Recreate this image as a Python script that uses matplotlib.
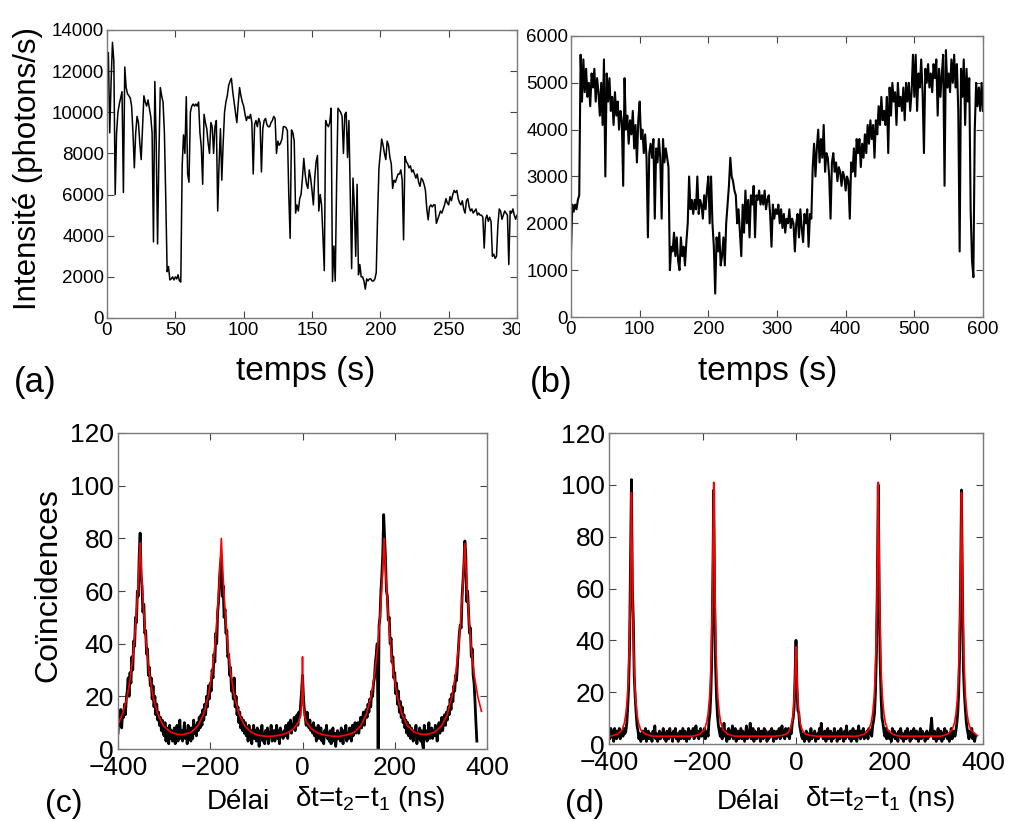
import numpy as np
import matplotlib
matplotlib.use("Agg")
import matplotlib.pyplot as plt
from matplotlib.transforms import Bbox

plt.rcParams['font.family'] = ['Liberation Sans', 'DejaVu Sans']
plt.rcParams['mathtext.fontset'] = 'custom'
plt.rcParams['mathtext.rm'] = 'Liberation Sans'
plt.rcParams['mathtext.it'] = 'Liberation Sans:italic'
plt.rcParams['axes.unicode_minus'] = True

# (a) intensity trace, 1 s steps (photons/s)
intens_a = [
    12800, 12900, 9000, 11500, 13400, 12500, 6000, 9000, 10000, 10400,
    10700, 11000, 6100, 12200, 11200, 10900, 10800, 10700, 10300, 9000,
    7300, 9000, 9800, 9500, 8500, 7700, 9200, 10800, 10500, 10300,
    10600, 10200, 9800, 9000, 3700, 11500, 8500, 3600, 8000, 11200,
    10800, 10500, 9000, 5800, 2250, 2500, 1850, 1900, 2000, 1850,
    2000, 1900, 2100, 1800, 1750, 7400, 8900, 8000, 10760, 7000,
    6600, 10000, 10300, 10400, 10300, 10400, 10300, 10500, 9000, 8300,
    6500, 9900, 9500, 9200, 8500, 8000, 9500, 9300, 8000, 9300,
    9600, 5200, 7500, 9200, 6700, 8500, 10000, 10500, 10800, 11300,
    11500, 11650, 11000, 10500, 10000, 9500, 10400, 11200, 10800, 10500,
    10300, 9900, 9600, 9800, 9700, 9900, 9500, 7000, 9400, 9600,
    9300, 9700, 9500, 7100, 9200, 9600, 9700, 9400, 9300, 9300,
    9500, 9600, 9800, 9700, 8000, 8600, 8400, 8500, 8700, 9300,
    9300, 9250, 9100, 6000, 3870, 9140, 9000, 8600, 5100, 5500,
    5200, 5800, 6000, 6800, 7760, 7000, 6500, 6300, 7200, 6800,
    6200, 5500, 6800, 7600, 7900, 5200, 6000, 5500, 4000, 2300,
    9600, 9400, 9300, 9500, 10200, 1770, 3500, 1800, 6500, 10200,
    10100, 10000, 9800, 8000, 9900, 10000, 7800, 9600, 6000, 2400,
    6800, 5400, 3000, 6500, 2100, 2600, 2000, 2000, 1800, 1400,
    1900, 1800, 1900, 1900, 1800, 1800, 1900, 2200, 5000, 7300,
    8000, 8700, 8400, 8000, 7700, 8600, 8400, 7800, 7500, 6300,
    6700, 6600, 6800, 7000, 7000, 7200, 6700, 3800, 7850, 7600,
    7500, 7300, 7400, 7100, 7200, 7000, 6800, 7000, 6600, 6400,
    6800, 6700, 6500, 6200, 5300, 4770, 5400, 5500, 5400, 5500,
    5500, 4600, 4800, 5000, 5200, 5100, 5300, 5500, 5800, 5600,
    5500, 5900, 5700, 6000, 6200, 6100, 6200, 5800, 5600, 5500,
    5700, 5300, 5100, 5700, 5800, 5400, 5200, 5300, 5100, 5200,
    5300, 5000, 5100, 5000, 5000, 4900, 3400, 4800, 5000, 4700,
    4900, 4700, 3000, 3100, 2900, 3000, 4500, 5300, 5200, 4800,
    5000, 5200, 5100, 5000, 2600, 5200, 5100, 5300, 5000, 4800,
    5000,
]

# (b) intensity trace, 2 s steps (photons/s)
intens_b = [
    1400, 2400, 2250, 2400, 2300, 2500, 2600, 5600, 4600, 5500,
    4800, 5300, 4700, 5000, 4500, 5200, 4900, 5300, 4600, 5100,
    4800, 4300, 5000, 4100, 5500, 3000, 5200, 4600, 5100, 4400,
    4700, 4100, 4800, 4300, 4600, 4000, 4400, 4200, 2800, 5100,
    4000, 4300, 3700, 4200, 3900, 4400, 3600, 4100, 3300, 4200,
    4600, 3800, 4000, 3500, 3900, 3400, 1700, 3500, 3700, 3400,
    3800, 2100, 3600, 3300, 3800, 3400, 2100, 3800, 3300, 3600,
    3400, 3200, 1000, 1500, 1400, 1800, 1300, 1700, 1200, 1000,
    1700, 1300, 1500, 1100, 1600, 2000, 3000, 2300, 2500, 2200,
    2500, 2300, 3000, 2200, 2500, 2400, 2100, 2600, 2300, 2700,
    3000, 2000, 3000, 2000, 1500, 500, 1700, 1400, 1800, 1100,
    1300, 1700, 1100, 2000, 2400, 2800, 3400, 3000, 2900, 2700,
    2600, 2000, 2300, 1800, 1300, 2400, 1800, 2700, 2000, 2500,
    1700, 2600, 2400, 2800, 1700, 2600, 2500, 2700, 2400, 2600,
    2400, 2700, 2300, 2500, 2600, 2200, 1500, 2400, 2100, 2300,
    2200, 2400, 2000, 2300, 1900, 2200, 1800, 2100, 2000, 2300,
    1900, 2100, 2000, 1400, 2000, 2200, 1700, 2300, 1900, 1600,
    2200, 2000, 2300, 1500, 2200, 2100, 3200, 3700, 3000, 3600,
    4000, 3300, 3800, 3400, 4100, 3100, 3500, 3400, 3000, 2100,
    3300, 3500, 3100, 3300, 2900, 3200, 3100, 2800, 3100, 3000,
    2700, 3000, 2900, 2100, 3300, 3100, 3600, 3000, 3800, 3500,
    3800, 3200, 3700, 3400, 3900, 3500, 4100, 3700, 4200, 3800,
    4100, 3400, 4200, 3900, 4500, 4100, 4700, 4200, 4400, 4100,
    4700, 3500, 4900, 4300, 5000, 4600, 4800, 4100, 5000, 4500,
    4700, 4400, 4900, 4200, 5000, 4600, 5000, 4400, 4800, 5600,
    4700, 5600, 4400, 5200, 4900, 5500, 4800, 3500, 5300, 5000,
    5400, 4900, 5200, 4800, 5400, 5100, 5500, 4300, 5300, 4700,
    5200, 5600, 2800, 5700, 4900, 5200, 4800, 5500, 5000, 5600,
    4900, 5400, 4400, 1400, 5300, 4700, 5500, 4100, 5300, 4600,
    5100, 2300, 1200, 850, 4000, 5000, 4500, 4900, 4400, 5000,
    4400,
]

# (c) coincidence histogram, 2 ns bins from -400 ns
counts_c = [
    6, 12, 9, 15, 8, 14, 12, 17, 13, 19,
    22, 27, 20, 29, 25, 35, 30, 41, 39, 50,
    48, 60, 58, 74, 82, 66, 62, 52, 55, 44,
    45, 36, 38, 28, 31, 24, 27, 19, 24, 16,
    20, 13, 17, 11, 14, 9, 12, 7, 11, 6,
    5, 10, 3, 8, 6, 2, 9, 4, 7, 3,
    4, 8, 2, 6, 9, 3, 5, 11, 4, 7,
    3, 6, 10, 4, 7, 2, 9, 5, 8, 3,
    8, 4, 11, 6, 9, 5, 10, 7, 12, 8,
    13, 9, 15, 11, 17, 13, 20, 16, 24, 19,
    25, 22, 30, 27, 36, 33, 44, 40, 52, 56,
    64, 70, 73, 58, 62, 50, 53, 44, 45, 35,
    36, 28, 31, 22, 26, 19, 27, 16, 20, 13,
    16, 10, 14, 8, 12, 7, 11, 6, 10, 5,
    8, 3, 9, 5, 7, 2, 6, 9, 4, 7,
    3, 8, 5, 1, 7, 4, 9, 3, 6, 2,
    7, 4, 8, 2, 6, 5, 9, 3, 5, 7,
    3, 6, 9, 4, 7, 2, 8, 5, 6, 4,
    7, 5, 9, 6, 4, 10, 7, 11, 6, 9,
    8, 12, 7, 10, 13, 9, 14, 12, 17, 22,
    28, 20, 15, 12, 9, 14, 10, 8, 11, 7,
    9, 6, 10, 5, 8, 3, 7, 9, 4, 6,
    8, 3, 6, 2, 7, 5, 9, 4, 6, 3,
    7, 2, 5, 8, 3, 6, 1, 5, 7, 4,
    6, 3, 8, 4, 2, 7, 5, 9, 3, 6,
    4, 8, 6, 3, 9, 5, 7, 10, 6, 8,
    10, 6, 9, 12, 8, 11, 14, 9, 13, 15,
    12, 17, 14, 19, 16, 22, 20, 25, 27, 33,
    36, 40, 0, 47, 50, 60, 66, 74, 89, 80,
    72, 60, 58, 49, 50, 40, 42, 33, 35, 27,
    29, 21, 25, 17, 22, 14, 18, 12, 16, 10,
    13, 8, 11, 6, 10, 5, 9, 4, 8, 6,
    3, 7, 5, 9, 2, 6, 4, 8, 3, 7,
    2, 0, 9, 4, 7, 3, 5, 10, 4, 6,
    8, 4, 7, 5, 9, 6, 3, 8, 10, 6,
    9, 12, 7, 11, 13, 9, 14, 11, 16, 13,
    19, 15, 21, 18, 24, 22, 28, 26, 32, 38,
    44, 47, 46, 58, 64, 70, 79, 74, 56, 60,
    52, 44, 46, 35, 38, 28, 25, 18, 10, 3,
]

# (c) fitted curve, read point by point
fit_c_x = [
    -400, -390, -380, -372, -366, -361, -357, -354, -352, -350,
    -347, -343, -338, -332, -324, -314, -302, -287, -272, -264,
    -256, -241, -226, -214, -204, -196, -190, -185, -181, -178,
    -176, -174, -171, -167, -162, -156, -148, -138, -126, -111,
    -96, -80, -63, -45, -32, -22, -14, -8, -4, -1.5,
    0, 1.5, 4, 8, 14, 22, 32, 45, 63, 80,
    97, 112, 127, 139, 149, 157, 163, 168, 172, 175,
    177, 179, 182, 186, 191, 197, 205, 215, 227, 242,
    257, 265, 272, 287, 302, 314, 324, 332, 338, 343,
    347, 350, 352, 354, 357, 361, 366, 372, 380, 388,
]
fit_c_y = [
    9.4, 13.3, 19.9, 28.6, 38.3, 49.2, 60.4, 70.5, 78.3, 70.5,
    60.4, 49.2, 38.3, 28.6, 19.9, 13.3, 8.9, 6.5, 5.6, 5.4,
    5.6, 6.4, 9.0, 13.5, 20.3, 29.2, 39.0, 50.2, 61.7, 72.1,
    80.0, 72.1, 61.7, 50.2, 39.0, 29.2, 20.3, 13.5, 9.0, 6.3,
    5.2, 4.8, 4.9, 5.4, 6.2, 7.3, 8.8, 10.5, 13.0, 18.0,
    35.0, 18.0, 13.0, 10.5, 8.8, 7.3, 6.2, 5.4, 4.9, 4.8,
    5.4, 6.3, 9.0, 13.5, 20.3, 29.2, 39.0, 50.2, 61.7, 72.1,
    80.0, 72.1, 61.7, 50.2, 39.0, 29.2, 20.3, 13.5, 9.0, 6.4,
    5.6, 5.5, 5.6, 6.4, 8.9, 13.2, 19.9, 28.5, 38.1, 49.0,
    60.2, 70.3, 78.0, 70.3, 60.2, 49.0, 38.1, 28.5, 19.9, 14.3,
]

# (d) coincidence histogram, 2 ns bins from -400 ns
counts_d = [
    5, 2, 6, 3, 5, 1, 6, 4, 2, 5,
    3, 6, 2, 4, 5, 3, 6, 4, 5, 8,
    14, 22, 38, 70, 102, 60, 48, 26, 18, 12,
    7, 5, 2, 4, 1, 3, 5, 2, 4, 6,
    1, 3, 5, 2, 4, 3, 1, 5, 3, 7,
    2, 4, 1, 3, 5, 2, 4, 3, 6, 2,
    4, 1, 5, 3, 2, 6, 3, 4, 1, 5,
    3, 6, 2, 4, 1, 3, 5, 2, 4, 6,
    2, 5, 3, 1, 4, 6, 2, 5, 3, 4,
    6, 2, 4, 7, 3, 5, 2, 4, 6, 3,
    5, 3, 6, 2, 4, 5, 3, 9, 12, 20,
    35, 62, 98, 55, 30, 18, 11, 7, 5, 3,
    6, 2, 4, 8, 3, 5, 1, 4, 6, 2,
    5, 3, 7, 2, 4, 6, 1, 3, 5, 2,
    4, 6, 2, 5, 3, 1, 4, 7, 2, 5,
    3, 8, 2, 4, 6, 1, 5, 3, 2, 4,
    6, 3, 1, 5, 4, 2, 6, 3, 5, 1,
    4, 2, 5, 3, 6, 4, 1, 5, 3, 2,
    5, 3, 6, 2, 4, 7, 3, 5, 2, 6,
    4, 3, 6, 2, 5, 4, 8, 10, 14, 26,
    40, 22, 13, 12, 7, 5, 3, 2, 4, 1,
    3, 5, 2, 4, 1, 3, 6, 2, 4, 3,
    5, 1, 3, 4, 2, 6, 3, 8, 4, 2,
    3, 5, 1, 4, 6, 2, 3, 5, 1, 4,
    2, 6, 3, 4, 1, 5, 3, 2, 6, 4,
    3, 1, 5, 2, 7, 3, 4, 2, 5, 1,
    4, 6, 2, 3, 5, 1, 4, 7, 3, 2,
    5, 3, 6, 2, 4, 3, 5, 2, 6, 4,
    5, 3, 7, 9, 12, 20, 35, 62, 100, 58,
    32, 18, 10, 8, 5, 3, 6, 2, 4, 5,
    2, 4, 1, 6, 3, 5, 2, 4, 3, 1,
    5, 3, 6, 2, 4, 1, 3, 5, 2, 6,
    3, 4, 1, 5, 2, 3, 6, 4, 2, 5,
    3, 1, 4, 6, 2, 5, 3, 4, 1, 3,
    5, 2, 4, 3, 6, 10, 4, 2, 5, 3,
    1, 4, 6, 2, 3, 5, 1, 4, 2, 6,
    3, 5, 2, 4, 1, 3, 6, 2, 4, 5,
    3, 5, 8, 12, 20, 35, 62, 98, 60, 30,
    20, 14, 9, 6, 4, 2, 5, 3, 6, 2,
    4, 1, 3,
]

# (d) fitted curve, read point by point
fit_d_x = [
    -400, -397, -382, -372, -367, -364, -361, -359, -357, -355, -353.5,
    -352, -350.5, -349, -347, -345, -343, -340, -337, -332, -322, -307,
    -221, -206, -196, -191, -188, -185, -183, -181, -179, -177.5,
    -176, -174.5, -173, -171, -169, -167, -164, -161, -156, -146, -131,
    -45, -30, -20, -15, -12, -9, -7, -5, -3, -1.5,
    0, 1.5, 3, 5, 7, 9, 12, 15, 20, 30, 45,
    131, 146, 156, 161, 164, 167, 169, 171, 173, 174.5,
    176, 177.5, 179, 181, 183, 185, 188, 191, 196, 206, 221,
    309, 324, 334, 339, 342, 345, 347, 349, 351, 352.5,
    354, 355.5, 357, 359, 361, 363, 366, 369, 374, 384, 388,
]
fit_d_y = [
    3, 3, 3.8, 5.4, 8.2, 11.5, 17.1, 23.7, 35, 51.9, 74.4,
    97, 74.4, 51.9, 35, 23.7, 17.1, 11.5, 8.2, 5.4, 3.8, 3,
    3, 3.8, 5.5, 8.4, 11.8, 17.7, 24.6, 36.3, 54, 77.5,
    101, 77.5, 54, 36.3, 24.6, 17.7, 11.8, 8.4, 5.5, 3.8, 3,
    3, 3.3, 3.9, 4.9, 6.1, 8.2, 10.6, 14.7, 20.9, 29.2,
    37.5, 29.2, 20.9, 14.7, 10.6, 8.2, 6.1, 4.9, 3.9, 3.3, 3,
    3, 3.8, 5.5, 8.4, 11.8, 17.7, 24.6, 36.3, 54, 77.5,
    101, 77.5, 54, 36.3, 24.6, 17.7, 11.8, 8.4, 5.5, 3.8, 3,
    3, 3.8, 5.4, 8.2, 11.5, 17.1, 23.7, 35, 51.9, 74.4,
    97, 74.4, 51.9, 35, 23.7, 17.1, 11.5, 8.2, 5.4, 3.8, 3.2,
]

time_a = np.arange(len(intens_a))
time_b = np.arange(len(intens_b)) * 2
lag_c = -400 + np.arange(len(counts_c)) * 2
lag_d = -400 + np.arange(len(counts_d)) * 2

W, H = 1011, 821
fig = plt.figure(figsize=(W / 100, H / 100), dpi=100)


def rect(x0, y0, x1, y1):
    # pixel box -> figure fraction [left, bottom, width, height]
    return [x0 / W, 1 - y1 / H, (x1 - x0) / W, (y1 - y0) / H]


def px(x, y):
    return x / W, 1 - y / H


def style(ax, fs, xpad, ypad):
    ax.tick_params(direction='in', top=True, right=True, length=5, width=0.8,
                   color='#444444', labelsize=fs)
    ax.tick_params(axis='x', pad=xpad)
    ax.tick_params(axis='y', pad=ypad)
    for s in ax.spines.values():
        s.set_color('#7a7a7a')
        s.set_linewidth(1.0)


ax_a = fig.add_axes(rect(107, 30, 517, 318))
ax_a.plot(time_a, intens_a, color='black', lw=1.1)
ax_a.set_xlim(0, 300)
ax_a.set_ylim(0, 14000)
ax_a.set_xticks(range(0, 301, 50))
ax_a.set_yticks(range(0, 14001, 2000))
style(ax_a, 13.5, 3, 2)

ax_b = fig.add_axes(rect(571, 36, 983, 317))
ax_b.plot(time_b, intens_b, color='black', lw=1.5)
ax_b.set_xlim(0, 600)
ax_b.set_ylim(0, 6000)
ax_b.set_xticks(range(0, 601, 100))
ax_b.set_yticks(range(0, 6001, 1000))
style(ax_b, 13.5, 3, 2)

ax_c = fig.add_axes(rect(118, 433, 487, 749))
ax_c.plot(lag_c, counts_c, color='black', lw=2.0)
ax_c.plot(fit_c_x, fit_c_y, color='red', lw=1.2)
ax_c.set_xlim(-400, 400)
ax_c.set_ylim(0, 120)
ax_c.set_xticks(range(-400, 401, 200))
ax_c.set_yticks(range(0, 121, 20))
style(ax_c, 19, 5, 3)

ax_d = fig.add_axes(rect(609, 433, 983, 744))
ax_d.plot(lag_d, counts_d, color='black', lw=2.0)
ax_d.plot(fit_d_x, fit_d_y, color='red', lw=1.2)
ax_d.set_xlim(-400, 400)
ax_d.set_ylim(0, 120)
ax_d.set_xticks(range(-400, 401, 200))
ax_d.set_yticks(range(0, 121, 20))
style(ax_d, 19, 5, 3)

# the "300" label of (a) is cut at the panel edge in the original
clip = Bbox.from_extents(0, 0, 520, H)
for lab in ax_a.get_xticklabels():
    lab.set_clip_box(clip)
    lab.set_clip_on(True)

fig.text(*px(28, 168), 'Intensité (photons/s)', rotation=90, fontsize=22.5,
         ha='center', va='center')
fig.text(*px(35, 382), '(a)', fontsize=25, ha='center', va='center')
fig.text(*px(306, 371), 'temps (s)', fontsize=24, ha='center', va='center')
fig.text(*px(551, 382), '(b)', fontsize=25, ha='center', va='center')
fig.text(*px(768, 371), 'temps (s)', fontsize=24, ha='center', va='center')

fig.text(*px(48, 585), 'Coïncidences', rotation=90, fontsize=23,
         ha='center', va='center')
fig.text(*px(64, 804), '(c)', fontsize=23, ha='center', va='center')
fig.text(*px(238, 802), 'Délai', fontsize=20, ha='center', va='center')
fig.text(*px(295, 799), 'δt=t$_2$−t$_1$ (ns)', fontsize=20, ha='left', va='center')
fig.text(*px(585, 804), '(d)', fontsize=23, ha='center', va='center')
fig.text(*px(748, 802), 'Délai', fontsize=20, ha='center', va='center')
fig.text(*px(805, 799), 'δt=t$_2$−t$_1$ (ns)', fontsize=20, ha='left', va='center')

fig.savefig('out.png', dpi=100)
